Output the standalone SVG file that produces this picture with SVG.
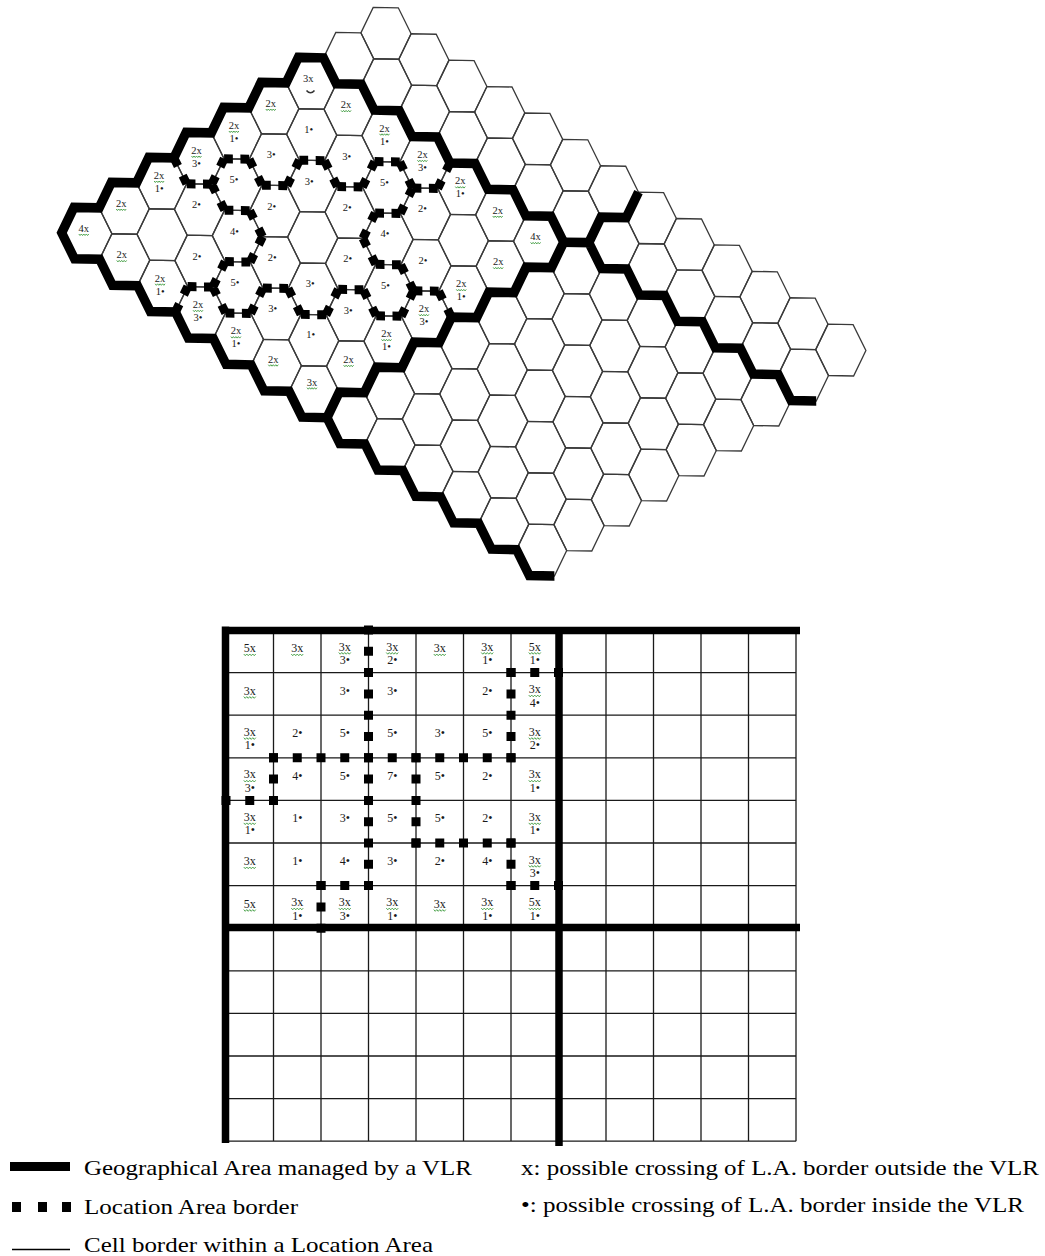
<svg xmlns="http://www.w3.org/2000/svg" width="1045" height="1256" viewBox="0 0 1045 1256">
<style>
.hexes{fill:none;stroke:#3a3a3a;stroke-width:0.026}
.vlr{fill:none;stroke:#000;stroke-width:0.185;stroke-linejoin:miter;stroke-miterlimit:4}
.lah{fill:none;stroke:#000;stroke-width:0.175;stroke-dasharray:0.175 0.15 0.175}
.las{fill:none;stroke:#000;stroke-width:0.175;stroke-dasharray:0.175 0.209 0.175}
.sl{fill:none;stroke:#1a1a1a;stroke-width:1.3}
.thk{fill:none;stroke:#000;stroke-width:7.5}
.dv{fill:none;stroke:#000;stroke-width:9;stroke-dasharray:9 12.3}
.dh{fill:none;stroke:#000;stroke-width:9;stroke-dasharray:9 14.75}
.th{font-family:"Liberation Serif","Times New Roman",serif;font-size:10.5px;fill:#1a1a1a;text-anchor:middle}
.ts{font-family:"Liberation Serif","Times New Roman",serif;font-size:12px;fill:#1a1a1a;text-anchor:middle}
.tl{font-family:"Liberation Serif","Times New Roman",serif;font-size:21.5px;fill:#000}
.sg{fill:none;stroke:#3d9b3d;stroke-width:0.9}
</style>
<defs>
<path id="hex" d="M-0.5,0 L-0.25,-0.5 L0.25,-0.5 L0.5,0 L0.25,0.5 L-0.25,0.5Z"/>
<g id="hrow">
<use href="#hex" x="0" y="0"/><use href="#hex" x="0.75" y="0.5"/><use href="#hex" x="1.5" y="1"/><use href="#hex" x="2.25" y="1.5"/><use href="#hex" x="3" y="2"/><use href="#hex" x="3.75" y="2.5"/><use href="#hex" x="4.5" y="3"/><use href="#hex" x="5.25" y="3.5"/><use href="#hex" x="6" y="4"/><use href="#hex" x="6.75" y="4.5"/><use href="#hex" x="7.5" y="5"/><use href="#hex" x="8.25" y="5.5"/><use href="#hex" x="9" y="6"/>
</g>
<path id="sqh" class="sg" d="M0,0 l1.25,1.5 l1.25,-1.5 l1.25,1.5 l1.25,-1.5 l1.25,1.5 l1.25,-1.5 l1.25,1.5 l1.25,-1.5"/>
<path id="sqs" class="sg" d="M0,0 l1.5,1.7 l1.5,-1.7 l1.5,1.7 l1.5,-1.7 l1.5,1.7 l1.5,-1.7 l1.5,1.7 l1.5,-1.7"/>
</defs>
<rect width="1045" height="1256" fill="#fff"/>

<!-- HEXAGONAL GRID -->
<g id="hex-grid" transform="matrix(50.2 0.93 0.5 51.4 386 33.3)">
<g id="hex-cells" class="hexes">
<use href="#hrow" x="0" y="0"/><use href="#hrow" x="-0.75" y="0.5"/><use href="#hrow" x="-1.5" y="1"/><use href="#hrow" x="-2.25" y="1.5"/><use href="#hrow" x="-3" y="2"/><use href="#hrow" x="-3.75" y="2.5"/><use href="#hrow" x="-4.5" y="3"/><use href="#hrow" x="-5.25" y="3.5"/><use href="#hrow" x="-6" y="4"/>
</g>
<g id="hex-la-borders">
<path class="lah" d="M-1.75,2.5H-1.25 M-2.5,3H-2 M-1,3H-0.5 M-0.25,2.5H0.25 M-0.25,3.5H0.25 M0.5,3H1 M-0.25,4.5H0.25 M-3.25,2.5H-2.75 M-3.25,3.5H-2.75 M-4,3H-3.5 M-3.25,4.5H-2.75 M-4,5H-3.5 M-3.25,5.5H-2.75 M-2.5,5H-2 M-1.75,5.5H-1.25 M-1,5H-0.5 M-0.25,5.5H0.25 M0.5,5H1"/>
<path class="las" d="M-1.25,2.5L-1,3 M-2,3L-1.75,2.5 M-2.5,3L-2.75,2.5 M-0.25,2.5L-0.5,3 M0.25,2.5L0.5,3 M0.5,3L0.25,3.5 M1.25,2.5L1,3 M-0.5,4L-0.25,3.5 M-0.25,4.5L-0.5,4 M-3.5,3L-3.25,2.5 M-3.25,3.5L-3.5,3 M-4,3L-4.25,2.5 M-2.75,3.5L-2.5,4 M-2.5,4L-2.75,4.5 M-3.25,4.5L-3.5,5 M-2.5,5L-2.75,5.5 M-3.25,5.5L-3.5,5 M-1.75,5.5L-2,5 M-1,5L-1.25,5.5 M-0.5,5L-0.25,5.5 M0.25,4.5L0.5,5 M0.5,5L0.25,5.5 M1,5L1.25,5.5 M-4.25,5.5L-4,5"/>
</g>
<g id="hex-vlr-borders">
<path class="vlr" d="M-1.75,0.5H-1.25L-1,1H-0.5L-0.25,1.5H0.25L0.5,2H1L1.25,2.5H1.75L2,3H2.5L2.75,3.5H3.25L3.5,4L3.25,4.5H2.75L2.5,5H2L1.75,5.5H1.25L1,6H0.5L0.25,6.5H-0.25L-0.5,7H-1L-1.25,7.5H-1.75L-2,7H-2.5L-2.75,6.5H-3.25L-3.5,6H-4L-4.25,5.5H-4.75L-5,5H-5.5L-5.75,4.5H-6.25L-6.5,4L-6.25,3.5H-5.75L-5.5,3H-5L-4.75,2.5H-4.25L-4,2H-3.5L-3.25,1.5H-2.75L-2.5,1H-2Z"/>
<path class="vlr" d="M5,3L4.75,3.5H4.25L4,4H3.5 M4,4L4.25,4.5H4.75L5,5H5.5L5.75,5.5H6.25L6.5,6H7L7.25,6.5H7.75L8,7H8.5"/>
<path class="vlr" d="M3.25,10.5H2.75L2.5,10H2L1.75,9.5H1.25L1,9H0.5L0.25,8.5H-0.25L-0.5,8H-1L-1.25,7.5"/>
</g>
</g>

<g id="hex-labels">
<text class="th" x="308.2" y="81.8">3x</text>
<path d="M306.5,90.5 q4,4.5 8,0" fill="none" stroke="#333" stroke-width="1.6"/>
<text class="th" x="346.1" y="108.2">2x</text><use href="#sqh" x="341.1" y="110.4"/>
<text class="th" x="384.5" y="131.6">2x<tspan x="384.5" dy="13">1•</tspan></text><use href="#sqh" x="379.5" y="133.8"/>
<text class="th" x="422.4" y="158">2x<tspan x="422.4" dy="13">3•</tspan></text><use href="#sqh" x="417.4" y="160.2"/>
<text class="th" x="460.3" y="184.4">2x<tspan x="460.3" dy="13">1•</tspan></text><use href="#sqh" x="455.3" y="186.6"/>
<text class="th" x="497.7" y="213.8">2x</text><use href="#sqh" x="492.7" y="216"/>
<text class="th" x="535.6" y="240.2">4x</text><use href="#sqh" x="530.6" y="242.4"/>

<text class="th" x="270.8" y="106.8">2x</text><use href="#sqh" x="265.8" y="109"/>
<text class="th" x="308.7" y="133.2">1•</text>
<text class="th" x="346.6" y="159.6">3•</text>
<text class="th" x="384.5" y="186">5•</text>
<text class="th" x="422.4" y="212.4">2•</text>
<text class="th" x="498.2" y="265.2">2x</text><use href="#sqh" x="493.2" y="267.4"/>

<text class="th" x="233.9" y="128.8">2x<tspan x="233.9" dy="13">1•</tspan></text><use href="#sqh" x="228.9" y="131"/>
<text class="th" x="271.3" y="158.2">3•</text>
<text class="th" x="309.2" y="184.6">3•</text>
<text class="th" x="347.1" y="211">2•</text>
<text class="th" x="385" y="237.4">4•</text>
<text class="th" x="422.9" y="263.8">2•</text>
<text class="th" x="461.3" y="287.2">2x<tspan x="461.3" dy="13">1•</tspan></text><use href="#sqh" x="456.3" y="289.4"/>

<text class="th" x="196.5" y="153.8">2x<tspan x="196.5" dy="13">3•</tspan></text><use href="#sqh" x="191.5" y="156"/>
<text class="th" x="233.9" y="183.2">5•</text>
<text class="th" x="271.8" y="209.6">2•</text>
<text class="th" x="347.6" y="262.4">2•</text>
<text class="th" x="385.5" y="288.8">5•</text>
<text class="th" x="423.9" y="312.2">2x<tspan x="423.9" dy="13">3•</tspan></text><use href="#sqh" x="418.9" y="314.4"/>

<text class="th" x="159.1" y="178.8">2x<tspan x="159.1" dy="13">1•</tspan></text><use href="#sqh" x="154.1" y="181"/>
<text class="th" x="196.5" y="208.2">2•</text>
<text class="th" x="234.4" y="234.6">4•</text>
<text class="th" x="272.3" y="261">2•</text>
<text class="th" x="310.2" y="287.4">3•</text>
<text class="th" x="348.1" y="313.8">3•</text>
<text class="th" x="386.5" y="337.2">2x<tspan x="386.5" dy="13">1•</tspan></text><use href="#sqh" x="381.5" y="339.4"/>

<text class="th" x="121.2" y="206.8">2x</text><use href="#sqh" x="116.2" y="209"/>
<text class="th" x="197" y="259.6">2•</text>
<text class="th" x="234.9" y="285.5">5•</text>
<text class="th" x="272.8" y="311.9">3•</text>
<text class="th" x="310.7" y="337.8">1•</text>
<text class="th" x="348.6" y="363">2x</text><use href="#sqh" x="343.6" y="365.2"/>

<text class="th" x="83.8" y="231.8">4x</text><use href="#sqh" x="78.8" y="234"/>
<text class="th" x="121.7" y="258.2">2x</text><use href="#sqh" x="116.7" y="260.4"/>
<text class="th" x="160.1" y="281.6">2x<tspan x="160.1" dy="13">1•</tspan></text><use href="#sqh" x="155.1" y="283.8"/>
<text class="th" x="198" y="308">2x<tspan x="198" dy="13">3•</tspan></text><use href="#sqh" x="193" y="310.2"/>
<text class="th" x="235.9" y="334.4">2x<tspan x="235.9" dy="13">1•</tspan></text><use href="#sqh" x="230.9" y="336.6"/>
<text class="th" x="273.3" y="362.5">2x</text><use href="#sqh" x="268.3" y="364.7"/>
<text class="th" x="312" y="385.5">3x</text><use href="#sqh" x="307" y="387.7"/>
</g>

<!-- SQUARE GRID -->
<g id="square-grid">
<path class="sl" d="M273.5,630V1141.2 M321,630V1141.2 M368.5,630V1141.2 M416,630V1141.2 M463.5,630V1141.2 M511,630V1141.2 M606,630V1141.2 M653.5,630V1141.2 M701,630V1141.2 M748.5,630V1141.2 M796,630V1141.2
M226,672.6H796 M226,715.2H796 M226,757.8H796 M226,800.4H796 M226,843H796 M226,885.6H796 M226,970.8H796 M226,1013.4H796 M226,1056H796 M226,1098.6H796 M226,1141.2H796"/>
<g id="square-la-borders">
<path class="dv" d="M368.5,625.5V890.1 M321,881.1V932.7 M273.5,753.3V804.9 M511,668.1V762.3 M416,753.3V847.5 M511,838.5V890.1"/>
<path class="dh" d="M316.5,885.6H373 M221.5,800.4H278 M269,757.8H515.5 M506.5,672.6H563 M411.5,843H515.5 M506.5,885.6H563"/>
</g>
<path id="square-vlr-borders" class="thk" d="M225.5,626.5V1143 M222,630.5H800 M559,627V1146 M222,927.5H800"/>
</g>

<g id="square-labels">
<text class="ts" x="249.75" y="652">5x</text><use href="#sqs" x="243.75" y="654"/>
<text class="ts" x="297.25" y="652">3x</text><use href="#sqs" x="291.25" y="654"/>
<text class="ts" x="344.75" y="650.5">3x<tspan x="344.75" dy="13.5">3•</tspan></text><use href="#sqs" x="338.75" y="652.5"/>
<text class="ts" x="392.25" y="650.5">3x<tspan x="392.25" dy="13.5">2•</tspan></text><use href="#sqs" x="386.25" y="652.5"/>
<text class="ts" x="439.75" y="652">3x</text><use href="#sqs" x="433.75" y="654"/>
<text class="ts" x="487.25" y="650.5">3x<tspan x="487.25" dy="13.5">1•</tspan></text><use href="#sqs" x="481.25" y="652.5"/>
<text class="ts" x="534.75" y="650.5">5x<tspan x="534.75" dy="13.5">1•</tspan></text><use href="#sqs" x="528.75" y="652.5"/>

<text class="ts" x="249.75" y="694.6">3x</text><use href="#sqs" x="243.75" y="696.6"/>
<text class="ts" x="344.75" y="694.6">3•</text>
<text class="ts" x="392.25" y="694.6">3•</text>
<text class="ts" x="487.25" y="694.6">2•</text>
<text class="ts" x="534.75" y="693.1">3x<tspan x="534.75" dy="13.5">4•</tspan></text><use href="#sqs" x="528.75" y="695.1"/>

<text class="ts" x="249.75" y="735.7">3x<tspan x="249.75" dy="13.5">1•</tspan></text><use href="#sqs" x="243.75" y="737.7"/>
<text class="ts" x="297.25" y="737.2">2•</text>
<text class="ts" x="344.75" y="737.2">5•</text>
<text class="ts" x="392.25" y="737.2">5•</text>
<text class="ts" x="439.75" y="737.2">3•</text>
<text class="ts" x="487.25" y="737.2">5•</text>
<text class="ts" x="534.75" y="735.7">3x<tspan x="534.75" dy="13.5">2•</tspan></text><use href="#sqs" x="528.75" y="737.7"/>

<text class="ts" x="249.75" y="778.3">3x<tspan x="249.75" dy="13.5">3•</tspan></text><use href="#sqs" x="243.75" y="780.3"/>
<text class="ts" x="297.25" y="779.8">4•</text>
<text class="ts" x="344.75" y="779.8">5•</text>
<text class="ts" x="392.25" y="779.8">7•</text>
<text class="ts" x="439.75" y="779.8">5•</text>
<text class="ts" x="487.25" y="779.8">2•</text>
<text class="ts" x="534.75" y="778.3">3x<tspan x="534.75" dy="13.5">1•</tspan></text><use href="#sqs" x="528.75" y="780.3"/>

<text class="ts" x="249.75" y="820.9">3x<tspan x="249.75" dy="13.5">1•</tspan></text><use href="#sqs" x="243.75" y="822.9"/>
<text class="ts" x="297.25" y="822.4">1•</text>
<text class="ts" x="344.75" y="822.4">3•</text>
<text class="ts" x="392.25" y="822.4">5•</text>
<text class="ts" x="439.75" y="822.4">5•</text>
<text class="ts" x="487.25" y="822.4">2•</text>
<text class="ts" x="534.75" y="820.9">3x<tspan x="534.75" dy="13.5">1•</tspan></text><use href="#sqs" x="528.75" y="822.9"/>

<text class="ts" x="249.75" y="865">3x</text><use href="#sqs" x="243.75" y="867"/>
<text class="ts" x="297.25" y="865">1•</text>
<text class="ts" x="344.75" y="865">4•</text>
<text class="ts" x="392.25" y="865">3•</text>
<text class="ts" x="439.75" y="865">2•</text>
<text class="ts" x="487.25" y="865">4•</text>
<text class="ts" x="534.75" y="863.5">3x<tspan x="534.75" dy="13.5">3•</tspan></text><use href="#sqs" x="528.75" y="865.5"/>

<text class="ts" x="249.75" y="907.6">5x</text><use href="#sqs" x="243.75" y="909.6"/>
<text class="ts" x="297.25" y="906.1">3x<tspan x="297.25" dy="13.5">1•</tspan></text><use href="#sqs" x="291.25" y="908.1"/>
<text class="ts" x="344.75" y="906.1">3x<tspan x="344.75" dy="13.5">3•</tspan></text><use href="#sqs" x="338.75" y="908.1"/>
<text class="ts" x="392.25" y="906.1">3x<tspan x="392.25" dy="13.5">1•</tspan></text><use href="#sqs" x="386.25" y="908.1"/>
<text class="ts" x="439.75" y="907.6">3x</text><use href="#sqs" x="433.75" y="909.6"/>
<text class="ts" x="487.25" y="906.1">3x<tspan x="487.25" dy="13.5">1•</tspan></text><use href="#sqs" x="481.25" y="908.1"/>
<text class="ts" x="534.75" y="906.1">5x<tspan x="534.75" dy="13.5">1•</tspan></text><use href="#sqs" x="528.75" y="908.1"/>
</g>

<!-- LEGEND -->
<g id="legend">
<rect x="10" y="1162" width="60" height="9" fill="#000"/>
<rect x="12" y="1202" width="9" height="10" fill="#000"/>
<rect x="38" y="1202" width="9" height="10" fill="#000"/>
<rect x="62" y="1202" width="9" height="10" fill="#000"/>
<path d="M12,1249.5H70" stroke="#000" stroke-width="1.3"/>
<text class="tl" x="84" y="1175" textLength="388" lengthAdjust="spacingAndGlyphs">Geographical Area managed by a VLR</text>
<text class="tl" x="84" y="1214" textLength="214" lengthAdjust="spacingAndGlyphs">Location Area border</text>
<text class="tl" x="84" y="1252" textLength="349" lengthAdjust="spacingAndGlyphs">Cell border within a Location Area</text>
<text class="tl" x="521" y="1175" textLength="518" lengthAdjust="spacingAndGlyphs">x: possible crossing of L.A. border outside the VLR</text>
<text class="tl" x="521" y="1212" textLength="503" lengthAdjust="spacingAndGlyphs">•: possible crossing of L.A. border inside the VLR</text>
</g>
</svg>
